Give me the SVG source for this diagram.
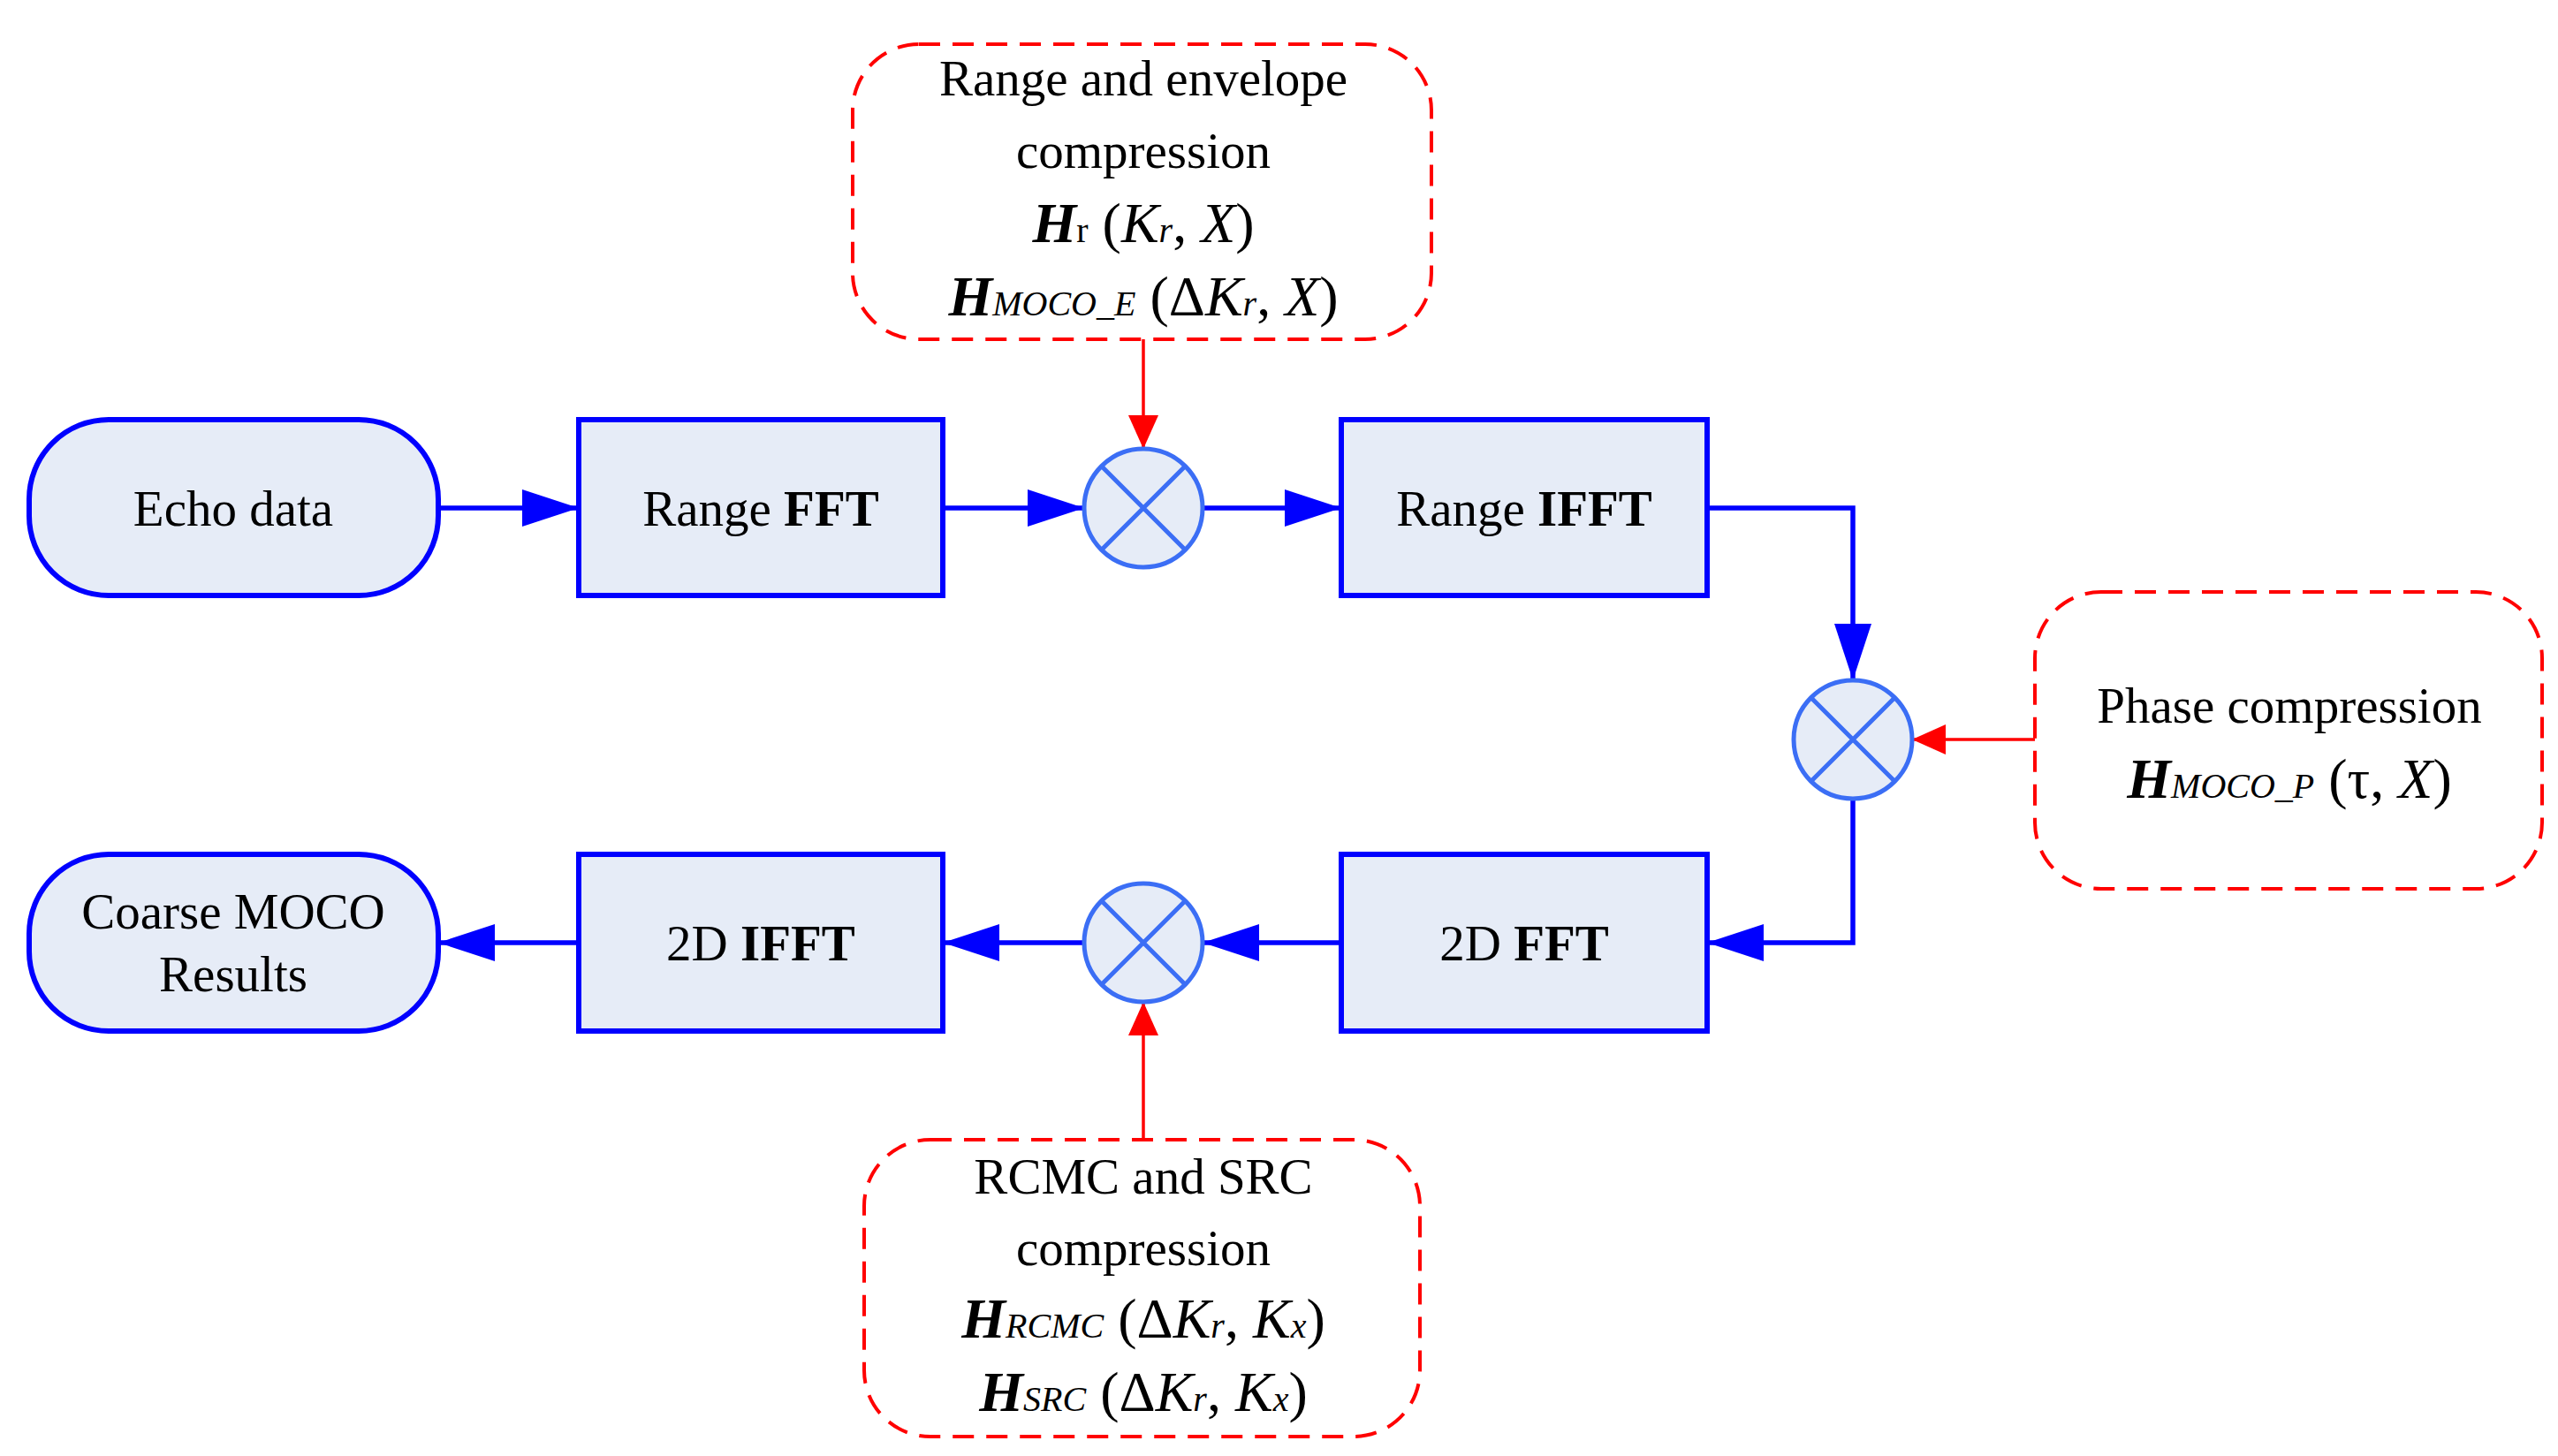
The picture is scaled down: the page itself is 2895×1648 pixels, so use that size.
<svg xmlns="http://www.w3.org/2000/svg" width="2895" height="1648" viewBox="0 0 2895 1648">
<style>
.box{fill:#E6ECF7;stroke:#0000FF;stroke-width:6}
.mul{fill:#E6ECF7;stroke:#3B6EF5;stroke-width:5}
.x{stroke:#3B6EF5;stroke-width:5}
.red{fill:#fff;stroke:#FF0000;stroke-width:4;stroke-dasharray:24 14}
.bl{fill:none;stroke:#0000FF;stroke-width:5.5}
.rl{fill:none;stroke:#FF0000;stroke-width:3.5}
text{font-family:"Liberation Serif",serif;font-size:57px;fill:#000;text-anchor:middle}
.f{font-size:64px}
.hb{font-weight:bold;font-style:italic}
.it{font-style:italic}
.sub{font-size:40px;font-style:italic}
</style>
<defs>
<marker id="ab" markerUnits="userSpaceOnUse" markerWidth="66" markerHeight="42" refX="64" refY="21" orient="auto"><path d="M0,0L64,21L0,42Z" fill="#0000FF"/></marker>
<marker id="ar" markerUnits="userSpaceOnUse" markerWidth="40" markerHeight="34" refX="38" refY="17" orient="auto"><path d="M0,0L38,17L0,34Z" fill="#FF0000"/></marker>
</defs>
<g id="connectors">
<path class="bl" d="M496,575H655" marker-end="url(#ab)"/>
<path class="bl" d="M1067,575H1227" marker-end="url(#ab)"/>
<path class="bl" d="M1361,575H1518" marker-end="url(#ab)"/>
<path class="bl" d="M1932,575H2097V770" marker-end="url(#ab)"/>
<path class="bl" d="M2097,904V1067H1932" marker-end="url(#ab)"/>
<path class="bl" d="M1518,1067H1361" marker-end="url(#ab)"/>
<path class="bl" d="M1227,1067H1067" marker-end="url(#ab)"/>
<path class="bl" d="M655,1067H496" marker-end="url(#ab)"/>
<path class="rl" d="M1294,384V508" marker-end="url(#ar)"/>
<path class="rl" d="M2303,837H2164" marker-end="url(#ar)"/>
<path class="rl" d="M1294,1290V1134" marker-end="url(#ar)"/>
</g>
<g id="echo"><rect class="box" x="33" y="475" width="463" height="199" rx="90"/><text x="264" y="595">Echo data</text></g>
<g id="rfft"><rect class="box" x="655" y="475" width="412" height="199"/><text x="861" y="595">Range <tspan font-weight="bold">FFT</tspan></text></g>
<g id="m1"><circle class="mul" cx="1294" cy="575" r="67"/><path class="x" d="M1247,528L1341,622M1341,528L1247,622"/></g>
<g id="rifft"><rect class="box" x="1518" y="475" width="414" height="199"/><text x="1725" y="595">Range <tspan font-weight="bold">IFFT</tspan></text></g>
<g id="m2"><circle class="mul" cx="2097" cy="837" r="67"/><path class="x" d="M2050,790L2144,884M2144,790L2050,884"/></g>
<g id="fft2"><rect class="box" x="1518" y="967" width="414" height="200"/><text x="1725" y="1087">2D <tspan font-weight="bold">FFT</tspan></text></g>
<g id="m3"><circle class="mul" cx="1294" cy="1067" r="67"/><path class="x" d="M1247,1020L1341,1114M1341,1020L1247,1114"/></g>
<g id="ifft2"><rect class="box" x="655" y="967" width="412" height="200"/><text x="861" y="1087">2D <tspan font-weight="bold">IFFT</tspan></text></g>
<g id="coarse"><rect class="box" x="33" y="967" width="463" height="200" rx="90"/><text x="264" y="1051">Coarse MOCO</text><text x="264" y="1122">Results</text></g>
<g id="envbox"><rect class="red" x="965" y="50" width="655" height="334" rx="75"/>
<text x="1294" y="108">Range and envelope</text>
<text x="1294" y="190">compression</text>
<text class="f" x="1294" y="274"><tspan class="hb">H</tspan><tspan font-size="40px">r</tspan> (<tspan class="it">K</tspan><tspan class="sub">r</tspan>, <tspan class="it">X</tspan>)</text>
<text class="f" x="1294" y="357"><tspan class="hb">H</tspan><tspan class="sub">MOCO_E</tspan> (Δ<tspan class="it">K</tspan><tspan class="sub">r</tspan>, <tspan class="it">X</tspan>)</text>
</g>
<g id="phasebox"><rect class="red" x="2303" y="670" width="574" height="336" rx="75"/>
<text x="2591" y="818">Phase compression</text>
<text class="f" x="2591" y="903"><tspan class="hb">H</tspan><tspan class="sub">MOCO_P</tspan> (τ, <tspan class="it">X</tspan>)</text>
</g>
<g id="rcmcbox"><rect class="red" x="978" y="1290" width="629" height="336" rx="75"/>
<text x="1294" y="1351">RCMC and SRC</text>
<text x="1294" y="1432">compression</text>
<text class="f" x="1294" y="1514"><tspan class="hb">H</tspan><tspan class="sub">RCMC</tspan> (Δ<tspan class="it">K</tspan><tspan class="sub">r</tspan>, <tspan class="it">K</tspan><tspan class="sub">x</tspan>)</text>
<text class="f" x="1294" y="1597"><tspan class="hb">H</tspan><tspan class="sub">SRC</tspan> (Δ<tspan class="it">K</tspan><tspan class="sub">r</tspan>, <tspan class="it">K</tspan><tspan class="sub">x</tspan>)</text>
</g>
</svg>
